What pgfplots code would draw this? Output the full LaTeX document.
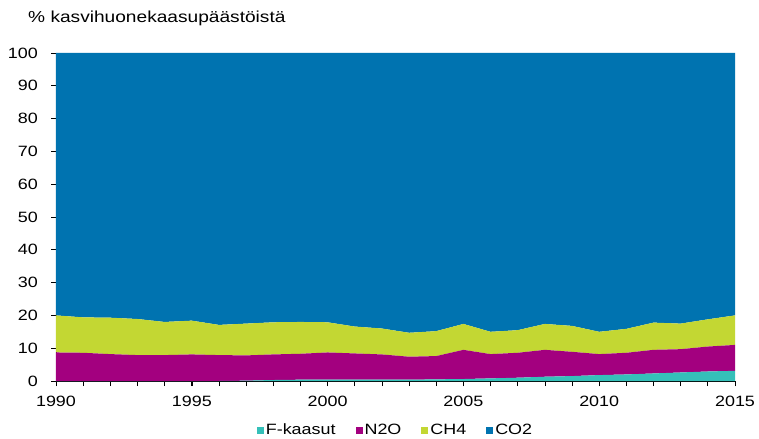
\documentclass[border=0pt]{standalone}
\usepackage{fontspec}
\setmainfont{Liberation Sans}[FakeStretch=1.2]
\usepackage{pgfplots}
\usepackage{pgfplotstable}
\pgfplotsset{compat=1.18}
\definecolor{cF}{HTML}{35C0B9}
\definecolor{cN}{HTML}{A3007F}
\definecolor{cCH}{HTML}{C3D733}
\definecolor{cCO}{HTML}{0073B0}
\pgfplotstableread{
year F N2O CH4 CO2
1990 0.0 8.7 11.3 80.0
1991 0.0 8.6 10.8 80.6
1992 0.0 8.2 11.1 80.7
1993 0.0 7.9 11.0 81.1
1994 0.0 7.9 10.1 82.0
1995 0.0 8.1 10.3 81.6
1996 0.0 7.9 9.2 82.9
1997 0.1 7.7 9.7 82.5
1998 0.3 7.8 9.8 82.1
1999 0.4 7.9 9.7 82.0
2000 0.4 8.3 9.2 82.1
2001 0.4 8.0 8.2 83.4
2002 0.4 7.7 7.9 84.0
2003 0.4 7.0 7.3 85.3
2004 0.5 7.1 7.6 84.8
2005 0.6 8.9 7.9 82.6
2006 0.8 7.4 6.8 85.0
2007 1.0 7.6 6.9 84.5
2008 1.3 8.2 7.9 82.6
2009 1.5 7.4 7.9 83.2
2010 1.8 6.4 6.8 85.0
2011 2.0 6.6 7.3 84.1
2012 2.3 7.2 8.3 82.2
2013 2.6 7.1 7.8 82.5
2014 2.9 7.6 8.3 81.2
2015 3.1 7.9 9.0 80.0
}\data
\begin{document}
\fontsize{15}{18}\selectfont
\begin{tikzpicture}
\useasboundingbox (-56bp,-58bp) rectangle (703bp,381bp);
\begin{axis}[
  at={(0,0)}, anchor=south west,
  scale only axis, width=679bp, height=328bp,
  xmin=1990, xmax=2015, ymin=0, ymax=100,
  stack plots=y,
  axis x line*=bottom, axis y line*=left,
  axis line style={black, line width=0.8pt, -},
  xtick={1990,1995,...,2015},
  minor xtick={1990,...,2015},
  ytick={0,10,...,100},
  tick align=outside,
  major tick length=5bp, minor tick length=5bp,
  tick style={black, line width=0.6pt},
  x tick label style={/pgf/number format/1000 sep={}, font=\fontsize{15}{18}\selectfont, yshift=-5bp},
  y tick label style={font=\fontsize{15}{18}\selectfont, xshift=-8bp},
  /pgf/number format/assume math mode=true,
  legend style={at={(0.5,-0.12)}, anchor=north, draw=none, fill=none,
    legend columns=4, font=\fontsize{15}{18}\selectfont,
    inner sep=1bp,
    /tikz/every even column/.append style={column sep=18bp},
    /tikz/every odd column/.append style={column sep=0bp}},
  legend image code/.code={\fill[#1] (-4bp,-3.5bp) rectangle (3bp,3.5bp);},
  clip=false,
]
\addplot[fill=cF, draw=none] table[x=year,y=F]{\data} \closedcycle;
\addplot[fill=cN, draw=none] table[x=year,y=N2O]{\data} \closedcycle;
\addplot[fill=cCH, draw=none] table[x=year,y=CH4]{\data} \closedcycle;
\addplot[fill=cCO, draw=none] table[x=year,y=CO2]{\data} \closedcycle;
\legend{F-kaasut, N2O, CH4, CO2}
\end{axis}
\node[anchor=west, inner sep=0pt] at (-28bp,363bp) {\fontsize{16}{19}\selectfont\% kasvihuonekaasupäästöistä};
\end{tikzpicture}
\end{document}
